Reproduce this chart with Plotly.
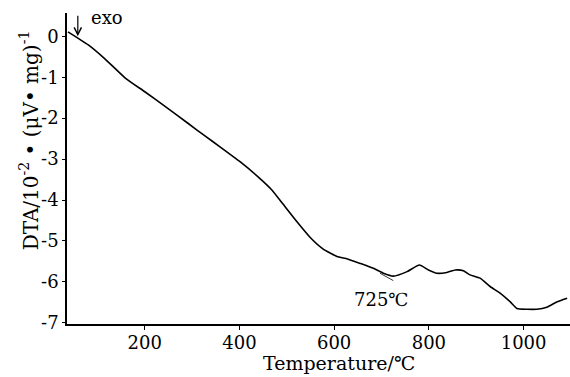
import plotly.graph_objects as go

# DTA trace of the sample, heated from room temperature to ~1100 °C
temperature_c = [38, 81, 116, 159, 201, 243, 292, 328, 359, 402, 440, 469, 492,
                 522, 549, 577, 606, 628, 655, 683, 704, 725, 754, 780, 799, 817,
                 838, 856, 873, 887, 908, 930, 951, 972, 986, 1007, 1028, 1049,
                 1070, 1092]
dta_signal = [0.11, -0.21, -0.55, -1.02, -1.36, -1.71, -2.13, -2.44, -2.70, -3.07,
              -3.44, -3.76, -4.10, -4.54, -4.91, -5.20, -5.38, -5.44, -5.55, -5.67,
              -5.79, -5.86, -5.75, -5.59, -5.71, -5.79, -5.77, -5.71, -5.73, -5.83,
              -5.91, -6.12, -6.28, -6.49, -6.65, -6.67, -6.67, -6.62, -6.49, -6.40]

# short tangent drawn under the 725 °C minimum
tangent_t = [697, 725]
tangent_v = [-5.79, -5.97]
peak_label = "725℃"

x_tick_vals = [200, 400, 600, 800, 1000]
x_tick_labels = ["200", "400", "600", "800", "1000"]
y_tick_vals = [0, -1, -2, -3, -4, -5, -6, -7]
y_tick_labels = ["0", "-1", "-2", "-3", "-4", "-5", "-6", "-7"]

SERIF = "DejaVu Serif"
FS = 18

fig = go.Figure()
fig.add_trace(go.Scatter(x=temperature_c, y=dta_signal, mode="lines",
                         line=dict(color="black", width=1.6, shape="spline",
                                   smoothing=0.5),
                         showlegend=False, hoverinfo="skip"))
fig.add_trace(go.Scatter(x=tangent_t, y=tangent_v, mode="lines",
                         line=dict(color="black", width=0.8), showlegend=False,
                         hoverinfo="skip"))

fig.update_layout(
    width=570, height=377,
    margin=dict(l=67, r=0, t=13, b=53),
    paper_bgcolor="white", plot_bgcolor="white",
    font=dict(family=SERIF, size=FS, color="black"),
    xaxis=dict(range=[36, 1098], showgrid=False, zeroline=False,
               showline=True, linecolor="black", linewidth=1.6,
               ticks="outside", ticklen=4, tickwidth=1, tickcolor="black",
               ticklabelstandoff=-2,
               tickvals=x_tick_vals, ticktext=x_tick_labels,
               tickfont=dict(family=SERIF, size=FS)),
    yaxis=dict(range=[-7.03, 0.57], showgrid=False, zeroline=False,
               showline=True, linecolor="black", linewidth=1.6,
               ticks="outside", ticklen=3, tickwidth=1, tickcolor="black",
               tickvals=y_tick_vals, ticktext=y_tick_labels,
               tickfont=dict(family=SERIF, size=FS)),
)

# axis titles
fig.add_annotation(text="Temperature/℃", xref="paper", yref="paper",
                   x=0.54, y=-0.168, xanchor="center", yanchor="bottom",
                   showarrow=False, font=dict(family=SERIF, size=19))
fig.add_annotation(text="DTA/10<sup>-2</sup> • (μV• mg)<sup>-1</sup>",
                   xref="paper", yref="paper", x=-0.046, y=0.59,
                   xanchor="right", yanchor="middle", textangle=-90,
                   showarrow=False, font=dict(family=SERIF, size=20))

# exothermic direction marker
fig.add_annotation(text="", xref="paper", yref="paper", x=0.0215, y=0.925,
                   ax=0, ay=-22, axref="pixel", ayref="pixel",
                   showarrow=True, arrowhead=5, arrowsize=1.2, arrowwidth=1.2,
                   arrowcolor="black")
fig.add_annotation(text="exo", xref="paper", yref="paper", x=0.044, y=0.985,
                   xanchor="left", yanchor="middle", showarrow=False,
                   font=dict(family=SERIF, size=FS))

# peak temperature label
fig.add_annotation(text=peak_label, x=tangent_t[1] - 26, y=-6.44,
                   xanchor="center", yanchor="middle", showarrow=False,
                   font=dict(family=SERIF, size=FS))

fig.write_html("out.html")
